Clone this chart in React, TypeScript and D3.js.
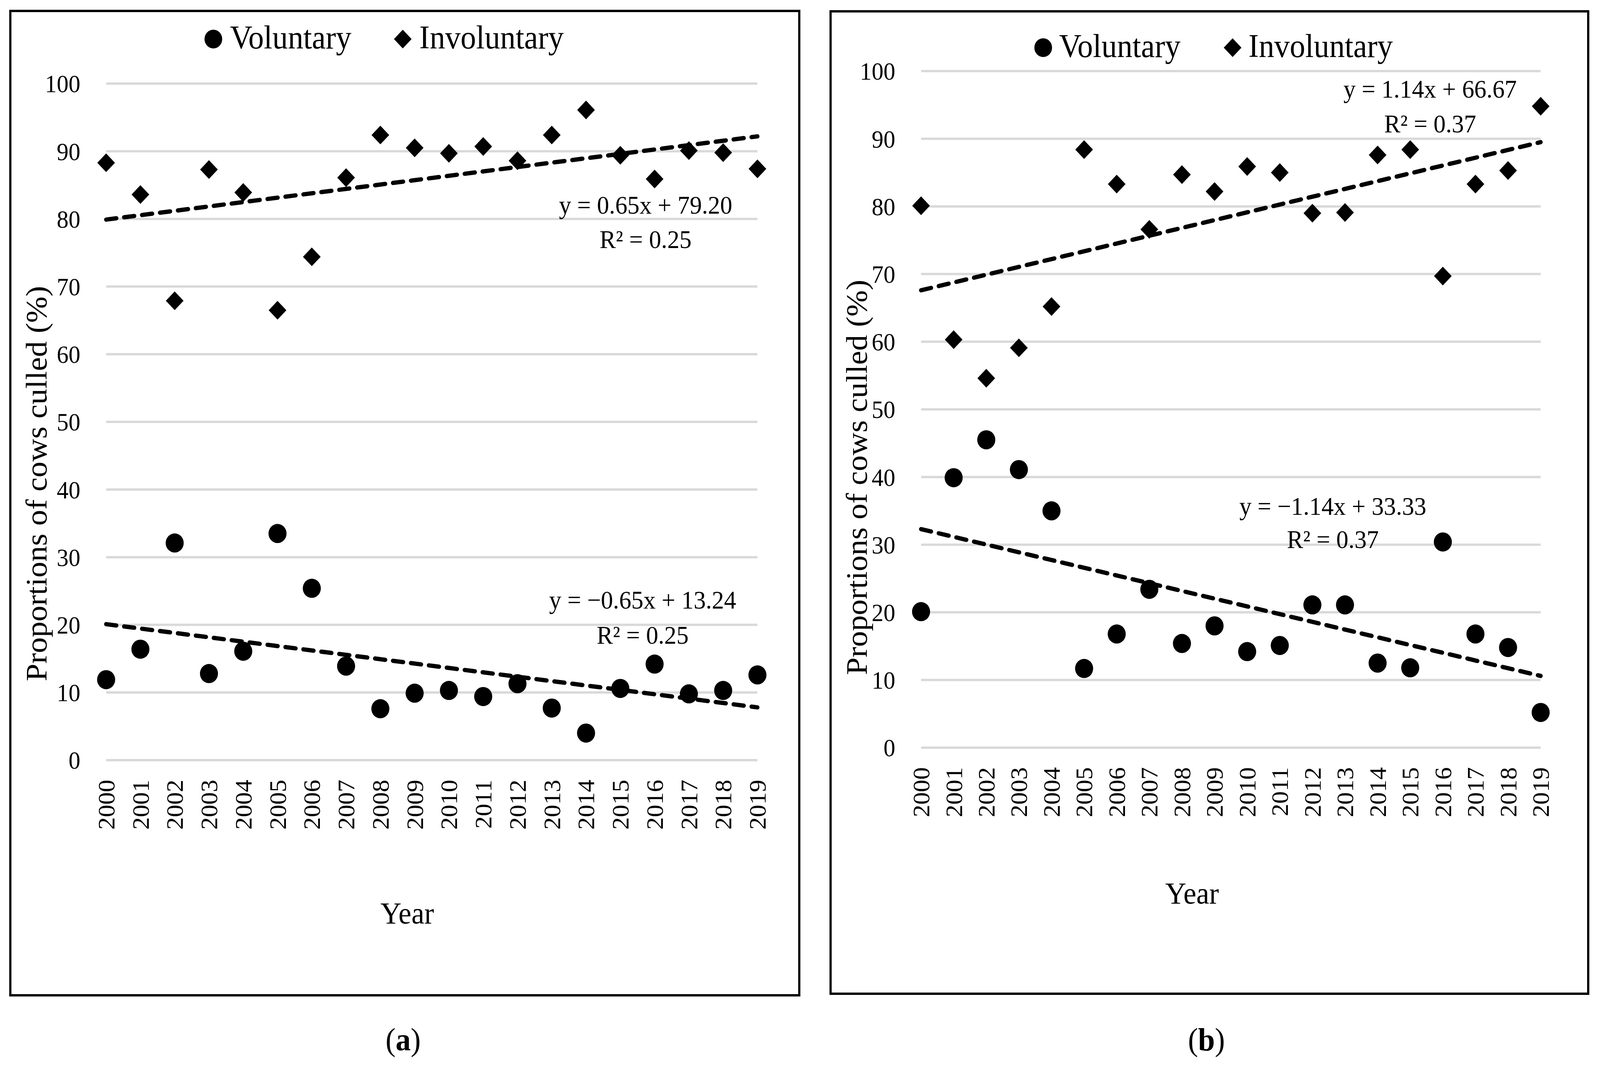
import React from 'react';
import * as d3 from 'd3';

const years = ['2000', '2001', '2002', '2003', '2004', '2005', '2006', '2007', '2008', '2009',
  '2010', '2011', '2012', '2013', '2014', '2015', '2016', '2017', '2018', '2019'];
const yTicks = [0, 10, 20, 30, 40, 50, 60, 70, 80, 90, 100];

// Panel (a)
const voluntaryA = [11.9, 16.4, 32.1, 12.8, 16.1, 33.5, 25.4, 13.9, 7.6, 9.9, 10.3, 9.4, 11.3, 7.7, 4.0, 10.6, 14.2, 9.8, 10.3, 12.6];
const involuntaryA = [88.3, 83.6, 67.9, 87.3, 83.9, 66.5, 74.4, 86.1, 92.4, 90.5, 89.7, 90.7, 88.6, 92.4, 96.1, 89.4, 85.9, 90.1, 89.8, 87.4];
const trendVolA = [20.1, 7.8];
const trendInvA = [79.9, 92.2];
const eqInvA = ['y = 0.65x + 79.20', 'R² = 0.25'];
const eqVolA = ['y = −0.65x + 13.24', 'R² = 0.25'];

// Panel (b)
const voluntaryB = [20.1, 39.9, 45.5, 41.1, 35.0, 11.7, 16.8, 23.4, 15.4, 18.0, 14.2, 15.1, 21.1, 21.1, 12.5, 11.8, 30.4, 16.8, 14.8, 5.2];
const involuntaryB = [80.1, 60.3, 54.6, 59.1, 65.2, 88.4, 83.3, 76.6, 84.7, 82.2, 85.9, 85.0, 79.0, 79.1, 87.6, 88.4, 69.7, 83.3, 85.3, 94.8];
const trendVolB = [32.3, 10.6];
const trendInvB = [67.6, 89.5];
const eqInvB = ['y = 1.14x + 66.67', 'R² = 0.37'];
const eqVolB = ['y = −1.14x + 33.33', 'R² = 0.37'];

const legendLabels = ['Voluntary', 'Involuntary'];
const axisTitleY = 'Proportions of cows culled (%)';
const axisTitleX = 'Year';

const FONT = "'Liberation Serif', 'Times New Roman', serif";
const diamondPath = d3.symbol().type(d3.symbolSquare).size(1150)() as string;

type PanelProps = {
  box: [number, number, number, number];
  xRange: [number, number];
  yRange: [number, number];
  vol: number[];
  inv: number[];
  tVol: number[];
  tInv: number[];
  eqInv: string[];
  eqVol: string[];
  eqInvPos: [number, number, number];
  eqVolPos: [number, number, number];
  legend: { y: number; cx1: number; cx2: number; gap: number };
  yTitle: [number, number];
  xTitle: [number, number];
  tag: string;
  tagPos: [number, number];
};

function Panel(p: PanelProps) {
  const x = d3.scalePoint<string>().domain(years).range(p.xRange);
  const y = d3.scaleLinear().domain([0, 100]).range(p.yRange);
  const first = years[0];
  const last = years[years.length - 1];
  const line = d3.line<[string, number]>().x((d) => x(d[0]) as number).y((d) => y(d[1]));
  const [bx, by, bw, bh] = p.box;
  return (
    <g>
      <rect x={bx} y={by} width={bw} height={bh} fill="white" stroke="black" strokeWidth={6} />
      {yTicks.map((t) => (
        <line key={'g' + t} x1={p.xRange[0]} x2={p.xRange[1]} y1={y(t)} y2={y(t)} stroke="#d9d9d9" strokeWidth={6} />
      ))}
      {yTicks.map((t) => (
        <text key={'yt' + t} x={p.xRange[0] - 70} y={y(t)} dy="0.35em" textAnchor="end" fontSize={64} fontFamily={FONT}>
          {t}
        </text>
      ))}
      {years.map((yr) => (
        <text
          key={'xt' + yr}
          transform={`translate(${x(yr)},${p.yRange[0] + 50}) rotate(-90)`}
          dy="0.35em"
          textAnchor="end"
          fontSize={64}
          fontFamily={FONT}
        >
          {yr}
        </text>
      ))}
      <path
        d={line([[first, p.tInv[0]], [last, p.tInv[1]]]) as string}
        fill="none"
        stroke="black"
        strokeWidth={11}
        strokeDasharray="28 21"
        strokeLinecap="round"
      />
      <path
        d={line([[first, p.tVol[0]], [last, p.tVol[1]]]) as string}
        fill="none"
        stroke="black"
        strokeWidth={11}
        strokeDasharray="28 21"
        strokeLinecap="round"
      />
      {p.inv.map((v, i) => (
        <path key={'i' + i} d={diamondPath} transform={`translate(${x(years[i])},${y(v)}) rotate(45)`} fill="black" />
      ))}
      {p.vol.map((v, i) => (
        <circle key={'v' + i} cx={x(years[i]) as number} cy={y(v)} r={24.5} fill="black" />
      ))}
      {p.eqInv.map((s, i) => (
        <text key={'ei' + i} x={p.eqInvPos[0]} y={p.eqInvPos[1] + i * p.eqInvPos[2]} textAnchor="middle" fontSize={66} fontFamily={FONT}>
          {s}
        </text>
      ))}
      {p.eqVol.map((s, i) => (
        <text key={'ev' + i} x={p.eqVolPos[0]} y={p.eqVolPos[1] + i * p.eqVolPos[2]} textAnchor="middle" fontSize={66} fontFamily={FONT}>
          {s}
        </text>
      ))}
      <circle cx={p.legend.cx1} cy={p.legend.y} r={24} fill="black" />
      <text x={p.legend.cx1 + p.legend.gap} y={p.legend.y + 24} fontSize={84} fontFamily={FONT}>
        {legendLabels[0]}
      </text>
      <path d={diamondPath} transform={`translate(${p.legend.cx2},${p.legend.y}) rotate(45)`} fill="black" />
      <text x={p.legend.cx2 + p.legend.gap} y={p.legend.y + 24} fontSize={84} fontFamily={FONT}>
        {legendLabels[1]}
      </text>
      <text
        transform={`translate(${p.yTitle[0]},${p.yTitle[1]}) rotate(-90)`}
        textAnchor="middle"
        fontSize={81}
        fontFamily={FONT}
      >
        {axisTitleY}
      </text>
      <text x={p.xTitle[0]} y={p.xTitle[1]} textAnchor="middle" fontSize={79} fontFamily={FONT}>
        {axisTitleX}
      </text>
      <text x={p.tagPos[0]} y={p.tagPos[1]} textAnchor="middle" fontSize={82} fontFamily={FONT}>
        (<tspan fontWeight="bold">{p.tag}</tspan>)
      </text>
    </g>
  );
}

export default function App() {
  React.useEffect(() => {
    document.body.style.margin = '0';
    document.body.style.overflow = 'hidden';
  }, []);
  return (
    <svg
      viewBox="0 0 4342 2729"
      preserveAspectRatio="none"
      style={{ position: 'fixed', left: 0, top: 0, width: '100vw', height: '100vh', background: 'white', display: 'block' }}
    >
      <rect x={0} y={0} width={4342} height={2729} fill="white" />
      <Panel
        box={[28, 28, 2141, 2520]}
        xRange={[288, 2055.5]}
        yRange={[1946, 214]}
        vol={voluntaryA}
        inv={involuntaryA}
        tVol={trendVolA}
        tInv={trendInvA}
        eqInv={eqInvA}
        eqVol={eqVolA}
        eqInvPos={[1752, 547, 88]}
        eqVolPos={[1744, 1558, 90]}
        legend={{ y: 100, cx1: 579, cx2: 1093, gap: 45 }}
        yTitle={[126, 1238]}
        xTitle={[1105, 2364]}
        tag="a"
        tagPos={[1094, 2689]}
      />
      <Panel
        box={[2254, 29, 2056, 2515]}
        xRange={[2499.5, 4181]}
        yRange={[1914, 182]}
        vol={voluntaryB}
        inv={involuntaryB}
        tVol={trendVolB}
        tInv={trendInvB}
        eqInv={eqInvB}
        eqVol={eqVolB}
        eqInvPos={[3881, 250, 89]}
        eqVolPos={[3617, 1318, 85]}
        legend={{ y: 122, cx1: 2831, cx2: 3345, gap: 43 }}
        yTitle={[2352, 1222]}
        xTitle={[3235, 2313]}
        tag="b"
        tagPos={[3274, 2689]}
      />
    </svg>
  );
}
